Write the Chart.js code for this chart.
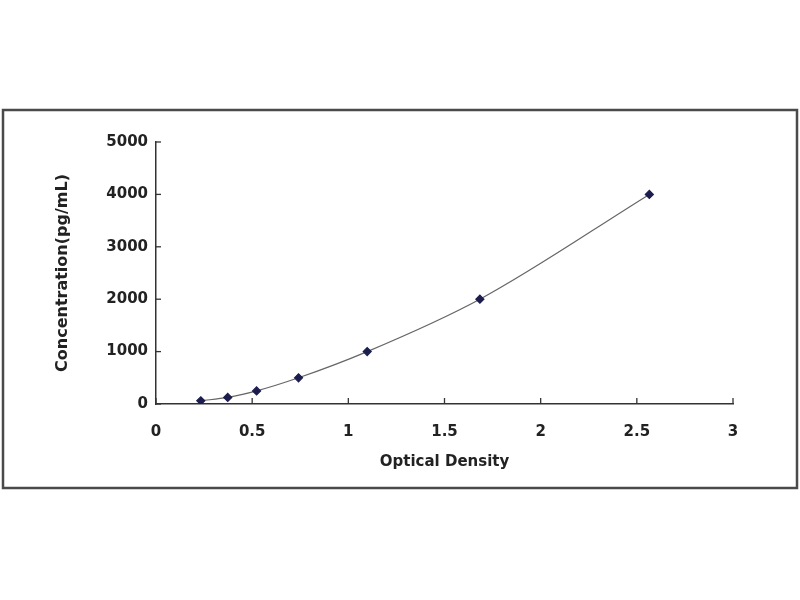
<!DOCTYPE html>
<html>
<head>
<meta charset="utf-8">
<script src="https://cdn.jsdelivr.net/npm/chart.js@4/dist/chart.umd.min.js"></script>
<style>
  html, body { margin: 0; padding: 0; background: #fff; }
  #wrap { width: 800px; height: 600px; }
</style>
</head>
<body>
<div id="wrap"><canvas id="odChart" width="800" height="600"></canvas></div>
<script>
// standard curve readings
const opticalDensity = [0.233, 0.373, 0.523, 0.741, 1.098, 1.684, 2.565];
const concentration = [62.5, 125, 250, 500, 1000, 2000, 4000];
const xTicks = [0, 0.5, 1, 1.5, 2, 2.5, 3];
const yTicks = [0, 1000, 2000, 3000, 4000, 5000];

const points = opticalDensity.map((x, i) => ({ x: x, y: concentration[i] }));

const axisFont = { family: 'DejaVu Sans', size: 15, weight: 'bold' };

// frame around the whole chart + short inward tick marks
const framePlugin = {
    id: 'frame',
    afterDraw(chart) {
        const c = chart.ctx;
        const xs = chart.scales.x, ys = chart.scales.y;
        c.save();
        c.strokeStyle = '#333';
        c.lineWidth = 1.3;
        xTicks.forEach(v => {
            const px = xs.getPixelForValue(v);
            c.beginPath();
            c.moveTo(px, ys.bottom);
            c.lineTo(px, ys.bottom - 6);
            c.stroke();
        });
        yTicks.forEach(v => {
            const py = ys.getPixelForValue(v);
            c.beginPath();
            c.moveTo(xs.left, py);
            c.lineTo(xs.left + 5, py);
            c.stroke();
        });
        c.strokeStyle = '#4a4a4a';
        c.lineWidth = 2.5;
        c.strokeRect(3, 110, 794, 378);
        c.restore();
    }
};

new Chart(document.getElementById('odChart'), {
    type: 'scatter',
    data: {
        datasets: [{
            data: points,
            showLine: true,
            borderColor: '#666',
            borderWidth: 1.2,
            tension: 0.4,
            cubicInterpolationMode: 'monotone',
            pointStyle: 'rectRot',
            pointRadius: 4,
            pointBackgroundColor: '#1c1c4e',
            pointBorderColor: '#1c1c4e'
        }]
    },
    options: {
        responsive: false,
        animation: false,
        layout: {
            padding: { left: 53, top: 142, right: 67, bottom: 129 }
        },
        plugins: {
            legend: { display: false },
            tooltip: { enabled: false }
        },
        scales: {
            x: {
                type: 'linear',
                min: 0,
                max: 3,
                afterFit: s => { s.height = 67; },
                afterBuildTicks: s => { s.ticks = xTicks.map(v => ({ value: v })); },
                grid: { drawOnChartArea: false, drawTicks: false },
                border: { color: '#333', width: 1.5 },
                ticks: { color: '#222', font: axisFont, padding: 19, callback: v => String(v) },
                title: {
                    display: true,
                    text: 'Optical Density',
                    color: '#222',
                    font: axisFont,
                    padding: 0
                }
            },
            y: {
                type: 'linear',
                min: 0,
                max: 5000,
                afterFit: s => { s.width = 103; },
                afterBuildTicks: s => { s.ticks = yTicks.map(v => ({ value: v })); },
                grid: { drawOnChartArea: false, drawTicks: false },
                border: { color: '#333', width: 1.5 },
                ticks: { color: '#222', font: axisFont, padding: 8, callback: v => String(v) },
                title: {
                    display: true,
                    text: 'Concentration(pg/mL)',
                    color: '#222',
                    font: { family: 'DejaVu Sans', size: 16, weight: 'bold' },
                    padding: 0
                }
            }
        }
    },
    plugins: [framePlugin]
});
</script>
</body>
</html>
